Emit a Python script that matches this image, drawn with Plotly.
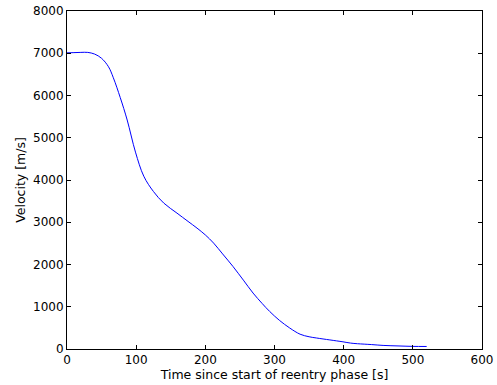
import plotly.graph_objects as go

time_s = [0, 10, 20, 30, 40, 50, 60, 67, 77, 87, 99, 111, 125, 140, 159, 175,
          188, 200, 212, 225, 240, 255, 269, 282, 293, 307, 322, 337, 350, 361, 380,
          399, 410, 420, 440, 457, 480, 500, 520]
velocity = [7010, 7015, 7020, 7020, 6980, 6880, 6680, 6420, 5950, 5420, 4660, 4090,
            3727, 3452, 3216, 3020, 2861, 2700, 2506, 2250, 1953, 1630, 1324, 1080,
            889, 680, 497, 350, 290, 260, 215, 170, 140, 125, 105, 85, 72, 62, 60]

x_ticks = [0, 100, 200, 300, 400, 500, 600]
y_ticks = [0, 1000, 2000, 3000, 4000, 5000, 6000, 7000, 8000]

fig = go.Figure(go.Scatter(x=time_s, y=velocity, mode="lines",
                           line=dict(color="#0000ff", width=1, shape="spline", smoothing=1.0)))

axis_common = dict(showline=True, linecolor="black", linewidth=1, mirror="ticks",
                   ticks="inside", ticklen=4, tickcolor="black", showgrid=False, zeroline=False,
                   automargin=False,
                   tickfont=dict(family="DejaVu Sans", size=12, color="black"))

fig.update_layout(
    width=497, height=385,
    margin=dict(l=67, r=15, t=11, b=36),
    plot_bgcolor="white", paper_bgcolor="white",
    showlegend=False,
    font=dict(family="DejaVu Sans", size=12, color="black"),
    xaxis=dict(range=[0, 600], tickvals=x_ticks,
               title=dict(text="Time since start of reentry phase [s]", standoff=0, font=dict(size=12.5)),
               **axis_common),
    yaxis=dict(range=[0, 8000], tickvals=y_ticks,
               title=dict(text="Velocity [m/s]", standoff=4, font=dict(size=12.5)),
               **axis_common),
)

fig.write_html("out.html", config={"displayModeBar": False},
               post_script="document.body.style.margin='0';document.body.style.padding='0';")
